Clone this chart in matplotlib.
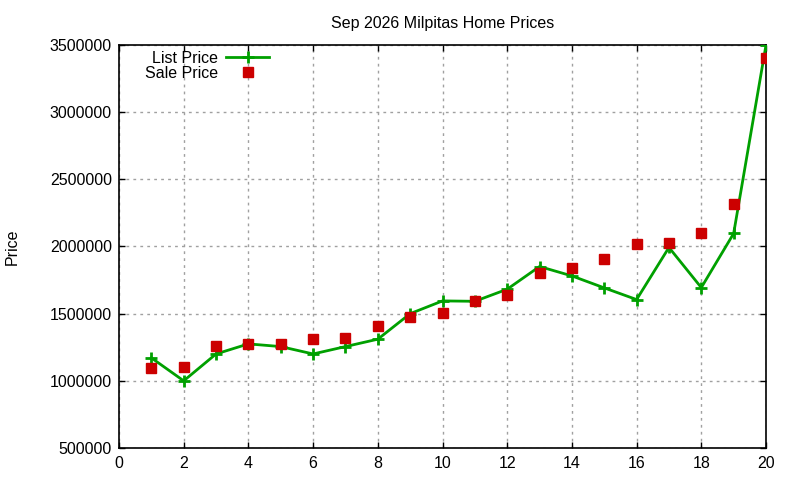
import matplotlib
matplotlib.use('Agg')
import matplotlib.pyplot as plt

# Month-by-month index (1..20) and prices
idx = list(range(1, 21))
list_price = [1171000, 1000000, 1200000, 1275000, 1255000, 1200000, 1255000, 1310000,
              1500000, 1595000, 1592000, 1682000, 1851000, 1781000, 1692000, 1605000,
              1993000, 1694000, 2097000, 3500000]
sale_price = [1092000, 1106000, 1262000, 1275000, 1277000, 1314000, 1322000, 1411000,
              1478000, 1507000, 1592000, 1639000, 1803000, 1841000, 1908000, 2020000,
              2027000, 2102000, 2318000, 3405000]

x_ticks = list(range(0, 21, 2))
y_ticks = list(range(500000, 3500001, 500000))

plt.rcParams['font.family'] = ['Liberation Sans', 'DejaVu Sans']

fig = plt.figure(figsize=(8, 4.8), dpi=100)
ax = fig.add_axes([119/800, 1 - 448/480, (766-119)/800, (448-45)/480])

ax.plot(idx, list_price, color='#00a000', lw=2, marker='+', markersize=9,
        markeredgewidth=2, label='List Price', zorder=3)
ax.plot(idx, sale_price, ls='none', color='#cc0000', marker='s', markersize=6.5,
        label='Sale Price', zorder=4)

ax.set_xlim(0, 20)
ax.set_ylim(500000, 3500000)
ax.set_xticks(x_ticks)
ax.set_yticks(y_ticks)
ax.set_yticklabels([str(v) for v in y_ticks])
ax.tick_params(direction='in', length=4, width=1, top=True, right=True,
               labelsize=11.5)
ax.tick_params(axis='y', pad=5)
ax.tick_params(axis='x', pad=6)
ax.grid(True, color='#a0a0a0', ls=(0, (2, 3)), lw=1)
for s in ax.spines.values():
    s.set_linewidth(1.2)

ax.set_title('Sep 2026 Milpitas Home Prices', fontsize=11.5, pad=12)
fig.text(12/800, 1 - 247/480, 'Price', rotation=90, ha='center', va='center', fontsize=11.5)

ax.legend(loc='upper left', bbox_to_anchor=((145-119)/647, 0.985), markerfirst=False,
          frameon=False, fontsize=11.5, borderpad=0, borderaxespad=0, labelspacing=0.0,
          handlelength=2.7, handletextpad=0.5)

fig.savefig('out.png', dpi=100)
